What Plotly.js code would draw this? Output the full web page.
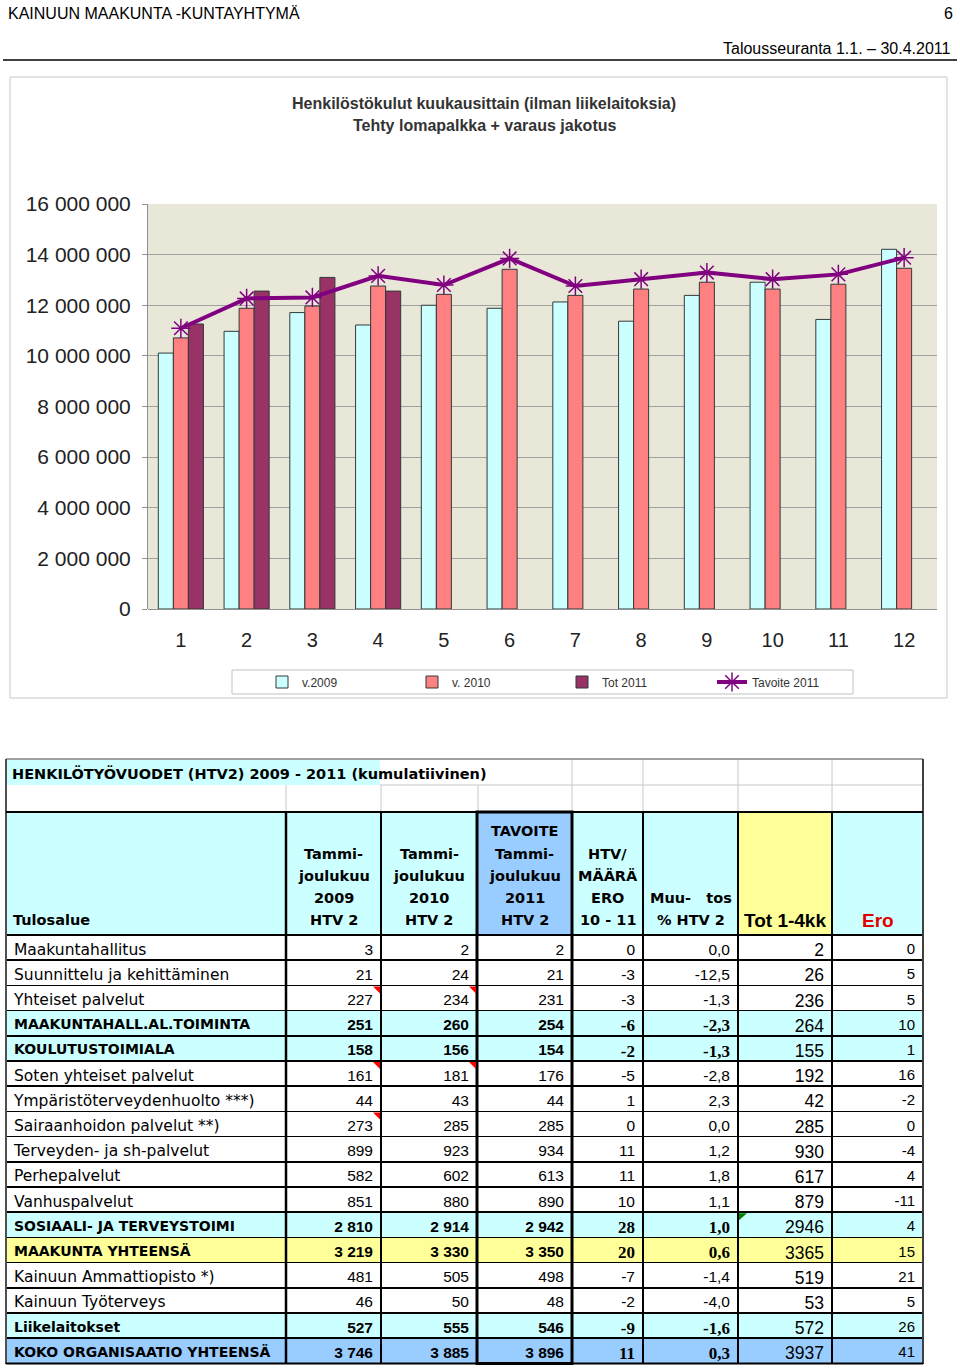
<!DOCTYPE html>
<html><head><meta charset="utf-8">
<script src="https://cdn.plot.ly/plotly-3.0.1.min.js"></script>
<style>html,body{margin:0;padding:0;background:#fff;} #page{width:960px;height:1369px;}</style>
</head><body><div id="page"></div>
<script>
// ---------- chart data ----------
const months = ['1','2','3','4','5','6','7','8','9','10','11','12'];
const v2009 = [10110000,10970000,11710000,11220000,12000000,11880000,12130000,11370000,12390000,12910000,11440000,14210000];
const v2010 = [10710000,11880000,11970000,12760000,12430000,13420000,12390000,12640000,12910000,12640000,12830000,13460000];
const tot2011 = [11260000,12560000,13100000,12560000];
const tavoite2011 = [11090000,12270000,12310000,13160000,12800000,13850000,12760000,13030000,13290000,13030000,13220000,13880000];
const seriesNames = ['v.2009','v. 2010','Tot 2011','Tavoite 2011'];

// ---------- table data ----------
const tulosalue = ['Maakuntahallitus','Suunnittelu ja kehittäminen','Yhteiset palvelut','MAAKUNTAHALL.AL.TOIMINTA','KOULUTUSTOIMIALA','Soten yhteiset palvelut','Ympäristöterveydenhuolto ***)','Sairaanhoidon palvelut **)','Terveyden- ja sh-palvelut','Perhepalvelut','Vanhuspalvelut','SOSIAALI- JA TERVEYSTOIMI','MAAKUNTA YHTEENSÄ','Kainuun Ammattiopisto *)','Kainuun Työterveys','Liikelaitokset','KOKO ORGANISAATIO YHTEENSÄ'];
const htv2009 = [3,21,227,251,158,161,44,273,899,582,851,2810,3219,481,46,527,3746];
const htv2010 = [2,24,234,260,156,181,43,285,923,602,880,2914,3330,505,50,555,3885];
const tavoiteHtv2011 = [2,21,231,254,154,176,44,285,934,613,890,2942,3350,498,48,546,3896];
const htvEro = [0,-3,-3,-6,-2,-5,1,0,11,11,10,28,20,-7,-2,-9,11];
const muutosPct = [0.0,-12.5,-1.3,-2.3,-1.3,-2.8,2.3,0.0,1.2,1.8,1.1,1.0,0.6,-1.4,-4.0,-1.6,0.3];
const tot14kk = [2,26,236,264,155,192,42,285,930,617,879,2946,3365,519,53,572,3937];
const eroVal = [0,5,5,10,1,16,-2,0,-4,4,-11,4,15,21,5,26,41];
const rowKind = ['n','n','n','sub','sub','n','n','n','n','n','n','sub','maak','n','n','sub','total'];
const headerLines = [
  ['Tulosalue'],
  ['Tammi-','joulukuu','2009','HTV 2'],
  ['Tammi-','joulukuu','2010','HTV 2'],
  ['TAVOITE','Tammi-','joulukuu','2011','HTV 2'],
  ['HTV/','MÄÄRÄ','ERO','10 - 11'],
  ['Muu-\u00a0\u00a0 tos','% HTV 2'],
  ['Tot 1-4kk'],
  ['Ero']
];
const tableTitle = 'HENKILÖTYÖVUODET (HTV2) 2009 - 2011 (kumulatiivinen)';
const redComments = [[2,1],[2,2],[5,1],[5,2],[7,1]];
const greenComments = [[11,6]];

// ---------- helpers ----------
const W = 960, H = 1369;
const P = x => x / W;
const Q = y => 1 - y / H;
const SANS = 'Liberation Sans, Arial, sans-serif';
const DJ = 'DejaVu Sans, Verdana, sans-serif';
const SERIF = 'Liberation Serif, Times New Roman, serif';
const CYAN = '#CCFFFF', YEL = '#FFFF99', BLUE = '#99CCFF';

function line(x0,y0,x1,y1,color,width){return {type:'line',xref:'paper',yref:'paper',x0:P(x0),y0:Q(y0),x1:P(x1),y1:Q(y1),line:{color:color,width:width}};}
function rect(x0,y0,x1,y1,lc,lw,fill){return {type:'rect',xref:'paper',yref:'paper',x0:P(x0),y0:Q(y0),x1:P(x1),y1:Q(y1),line:{color:lc,width:lw},fillcolor:fill||'rgba(0,0,0,0)'};}
function tri(pts,color){
  let d = 'M' + pts.map(p => P(p[0]) + ',' + Q(p[1])).join(' L') + ' Z';
  return {type:'path',xref:'paper',yref:'paper',path:d,fillcolor:color,line:{width:0}};
}
const fmtInt = n => String(n).replace(/\B(?=(\d{3})+(?!\d))/g, ' ');
const fmtDec = x => x.toFixed(1).replace('.', ',');

// ---------- chart traces ----------
const barLine = {color:'#2F3B3B', width:1};
const traces = [
  {type:'bar', name:seriesNames[0], x:months, y:v2009, marker:{color:'#CCFFFF', line:barLine}},
  {type:'bar', name:seriesNames[1], x:months, y:v2010, marker:{color:'#FF8080', line:barLine}},
  {type:'bar', name:seriesNames[2], x:months.slice(0, tot2011.length), y:tot2011, marker:{color:'#993366', line:barLine}},
  {type:'scatter', mode:'lines+markers', name:seriesNames[3], x:months, y:tavoite2011,
   line:{color:'#800080', width:4},
   marker:{symbol:'asterisk-open', size:16, color:'#800080', line:{color:'#800080', width:1.5}}}
];

// ---------- table ----------
const colEdges = [6,286,381,477,572,643,738,832,923];
const colW = colEdges.slice(1).map((e,i) => e - colEdges[i]);
const isBold = rowKind.map(k => k !== 'n');
const rowFill = rowKind.map(k => k === 'sub' ? CYAN : k === 'maak' ? YEL : k === 'total' ? BLUE : '#FFFFFF');

const colValues = [
  tulosalue,
  htv2009.map(fmtInt),
  htv2010.map(fmtInt),
  tavoiteHtv2011.map(fmtInt),
  htvEro.map(String),
  muutosPct.map(fmtDec),
  tot14kk.map(String),
  eroVal.map(String)
];
const famCols = [
  rowKind.map(() => DJ),
  rowKind.map(() => SANS), rowKind.map(() => SANS), rowKind.map(() => SANS),
  rowKind.map((k,i) => isBold[i] ? SERIF : SANS),
  rowKind.map((k,i) => isBold[i] ? SERIF : SANS),
  rowKind.map(() => SANS), rowKind.map(() => SANS)
];
const sizeCols = [
  rowKind.map((k,i) => isBold[i] ? 14 : 15.5),
  rowKind.map(() => 15.5), rowKind.map(() => 15.5), rowKind.map(() => 15.5),
  rowKind.map((k,i) => isBold[i] ? 17 : 15.5),
  rowKind.map((k,i) => isBold[i] ? 17 : 15.5),
  rowKind.map(() => 17.5), rowKind.map(() => 15)
];
const weightCols = [0,1,2,3,4,5,6,7].map(c => rowKind.map((k,i) => (c <= 5 && isBold[i]) ? 'bold' : 'normal'));
const fillCols = colValues.map(() => rowFill);
const headerFill = [CYAN, CYAN, CYAN, BLUE, CYAN, CYAN, YEL, CYAN];

const tableTop = 812, headerH = 123, rowH = 25.2;
traces.push({
  type:'table',
  domain:{x:[P(colEdges[0]), P(colEdges[8])], y:[Q(tableTop + headerH + rowH*17 + 2), Q(tableTop)]},
  columnwidth: colW,
  header:{values: headerLines.map(() => ''), height: headerH, fill:{color: headerFill}, line:{color:'#000', width:1.5}},
  cells:{values: colValues, height: rowH, fill:{color: fillCols},
         font:{family: famCols, size: sizeCols, color:'#000', weight: weightCols},
         align:['left','right','right','right','right','right','right','right'],
         line:{color:'#000', width:1.5}}
});

// ---------- annotations ----------
const ann = [];
function txt(x,y,text,opt){
  ann.push(Object.assign({xref:'paper',yref:'paper',x:P(x),y:Q(y),text:text,showarrow:false,
    xanchor:'center',yanchor:'middle',font:{family:SANS,size:16,color:'#000'}}, opt||{}));
}
txt(6,13,'KAINUUN MAAKUNTA -KUNTAYHTYMÄ',{xanchor:'left'});
txt(955,13,'6',{xanchor:'right'});
txt(953,48,'Talousseuranta 1.1. – 30.4.2011',{xanchor:'right'});
txt(484,103,'<b>Henkilöstökulut kuukausittain (ilman liikelaitoksia)</b>',{font:{family:SANS,size:16,color:'#333'}});
txt(484,125,'<b>Tehty lomapalkka + varaus jakotus</b>',{font:{family:SANS,size:16,color:'#333'}});
txt(10,773,'<b>' + tableTitle + '</b>',{xanchor:'left',font:{family:DJ,size:14.5,color:'#000'}});

const lineYs = [831,854,876,898,920];
headerLines.forEach((lines, c) => {
  const cx = (colEdges[c] + colEdges[c+1]) / 2;
  lines.forEach((t, i) => {
    const y = lineYs[5 - lines.length + i];
    let opt = {font:{family:DJ,size:14.5,color:'#000'}};
    if (c === 0) { opt.xanchor = 'left'; txt(colEdges[0] + 5, y, '<b>' + t + '</b>', opt); return; }
    if (c === 6) opt.font = {family:SANS,size:19,color:'#000'};
    if (c === 7) opt.font = {family:SANS,size:19,color:'#E00000'};
    txt(cx, y, '<b>' + t + '</b>', opt);
  });
});

// ---------- shapes ----------
const shapes = [
  line(3,60,957,60,'#000',1.5),
  rect(10,77,947,698,'#C8C8C8',1),
  rect(232,670,853,694,'#C0C0C0',1),
  rect(6,760,380,785,'rgba(0,0,0,0)',0,CYAN),
  line(380,785,923,785,'#C8C8C8',1),
];
[572,643,738,832].forEach(x => shapes.push(line(x,760,x,785,'#C8C8C8',1)));
[286,381,478,572,643,738,832].forEach(x => shapes.push(line(x,785,x,812,'#C8C8C8',1)));
const tBottom = tableTop + headerH + rowH*17;
shapes.push(line(6,759,923,759,'#808080',1.5));
shapes.push(line(6,759,6,tBottom,'#505050',2));
shapes.push(line(923,759,923,tBottom,'#404040',2));
shapes.push(line(6,tBottom,923,tBottom,'#000',2));
shapes.push(line(6,812,923,812,'#000',2));
shapes.push(line(286,812,286,tBottom,'#000',2.5));
shapes.push(rect(477,812,572,tBottom,'#000',3));
const rowTop = r => tableTop + headerH + r*rowH;
redComments.forEach(([r,c]) => { const x = colEdges[c+1]-1, y = rowTop(r)+1; shapes.push(tri([[x-7,y],[x,y],[x,y+7]],'#FF0000')); });
greenComments.forEach(([r,c]) => { const x = colEdges[c]+1, y = rowTop(r)+1; shapes.push(tri([[x,y],[x+8,y],[x,y+7]],'#008000')); });

const layout = {
  width: W, height: H,
  margin:{l:0,r:0,t:0,b:0},
  paper_bgcolor:'#FFFFFF', plot_bgcolor:'#E9E7D8',
  separators:', ',
  font:{family:SANS, color:'#222'},
  barmode:'group', bargap:0.314, bargroupgap:0,
  showlegend:true,
  legend:{orientation:'h', x:P(262), y:Q(682), xanchor:'left', yanchor:'middle',
          bgcolor:'rgba(0,0,0,0)', font:{family:SANS,size:12,color:'#333'},
          entrywidth:105, entrywidthmode:'pixels', traceorder:'normal'},
  xaxis:{domain:[P(148),P(937)], anchor:'y', type:'category', range:[-0.5,11.5], showgrid:false, ticks:'',
         tickfont:{family:SANS,size:20,color:'#222'}, ticklabelstandoff:17, showline:false},
  yaxis:{domain:[Q(609),Q(204)], anchor:'x', range:[0,16000000], dtick:2000000, tick0:0, tickformat:',d',
         showgrid:true, gridcolor:'#A0A0A0', gridwidth:1, zeroline:true, zerolinecolor:'#909090',
         showline:true, linecolor:'#909090', ticks:'outside', ticklen:5, tickcolor:'#909090',
         tickfont:{family:SANS,size:21,color:'#222'}, ticklabelstandoff:7},
  annotations: ann,
  shapes: shapes
};
Plotly.newPlot('page', traces, layout, {displayModeBar:false, staticPlot:true});
</script>
</body></html>
